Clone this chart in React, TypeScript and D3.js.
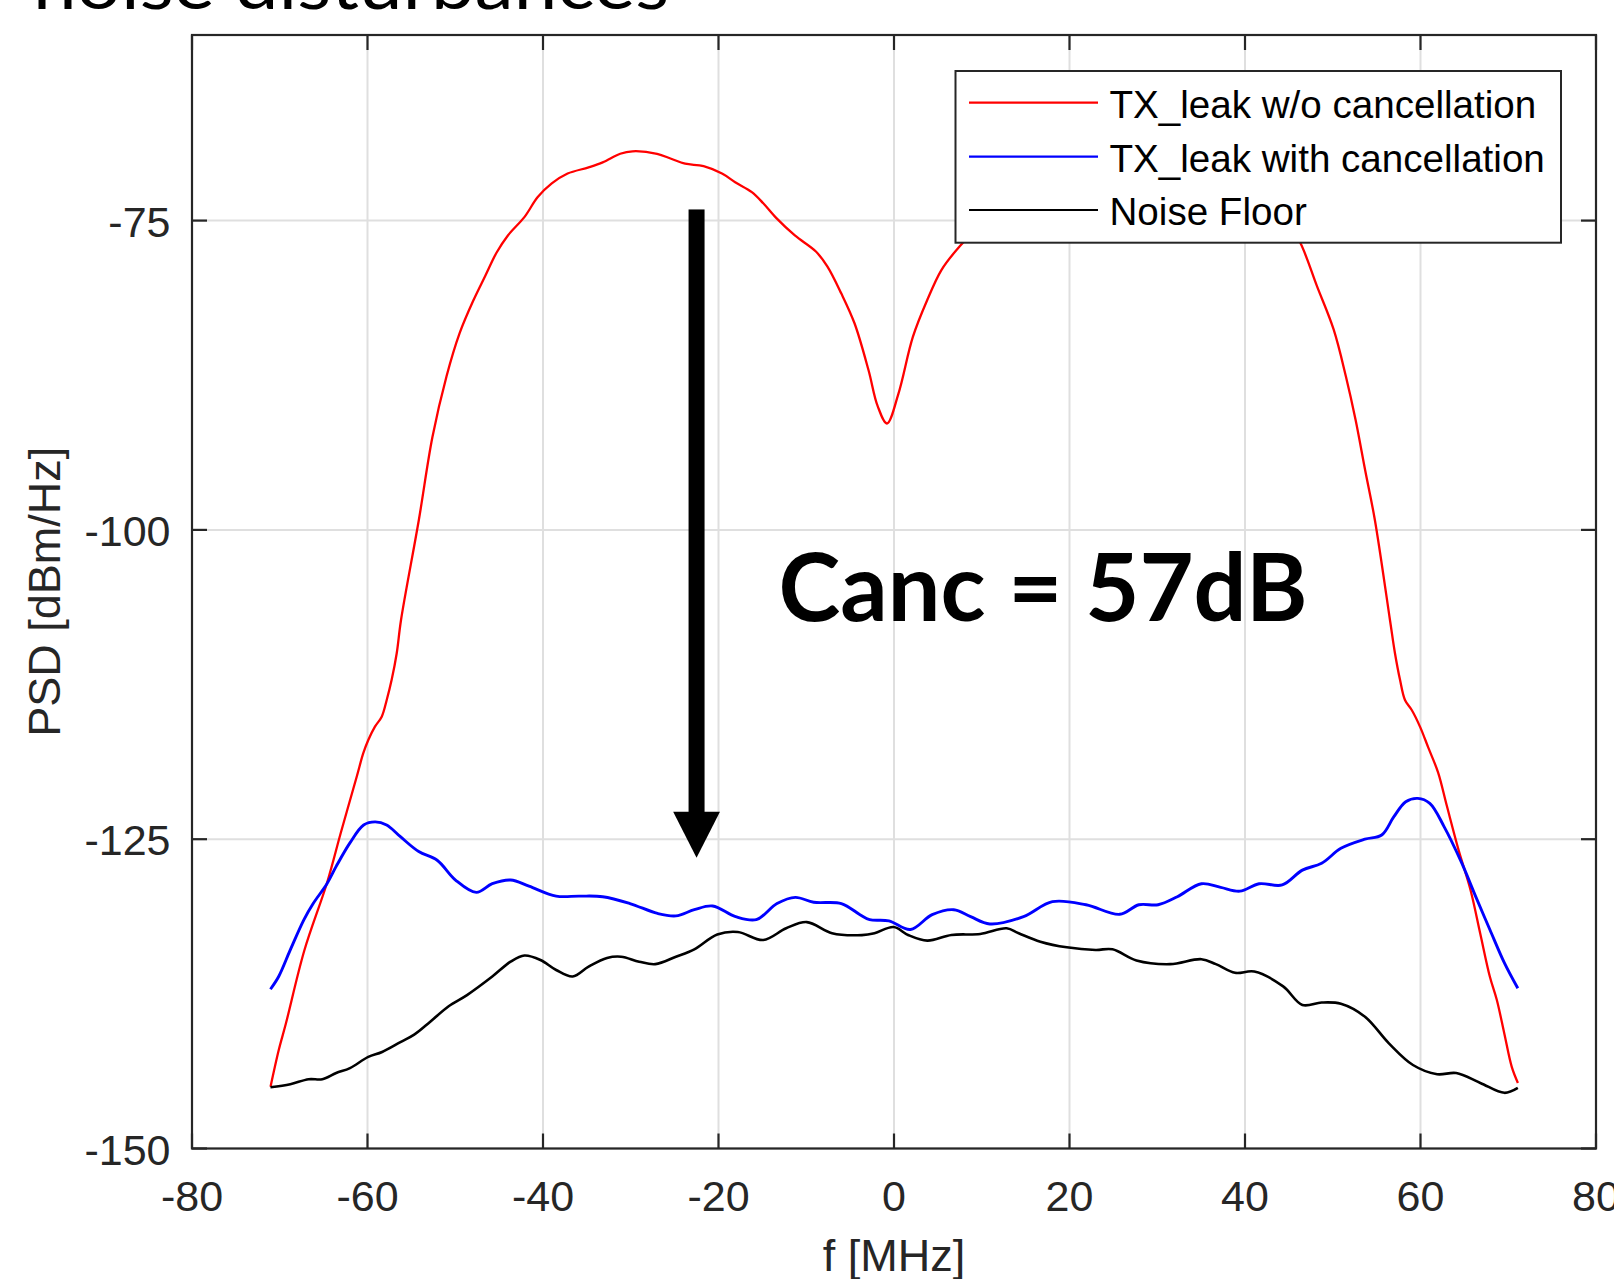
import React from "react";
import * as d3 from "d3";

// ---- data (f in MHz, PSD in dBm/Hz) ----
const redF = [-71.05, -70.1, -69.3, -67.2, -64.6, -63.05, -61.23, -60.48, -59.91, -59.15, -58.38, -57.81, -57.24, -56.67, -56.18, -54.15, -52.6, -51.0, -49.5, -47.9, -46.6, -45.3, -44.0, -42.1, -40.6, -39.0, -37.2, -34.8, -33.2, -31.2, -29.8, -27.0, -25.4, -23.8, -21.7, -19.6, -18.1, -16.2, -14.9, -13.4, -11.3, -8.9, -7.6, -6.0, -4.5, -2.9, -1.86, -0.8, 0.5, 2.15, 3.8, 5.4, 7.1, 9, 12, 16, 20, 25, 30, 35, 39, 42, 44.5, 46.3, 48.2, 50.1, 51.5, 52.6, 53.7, 54.8, 56.52, 57.09, 57.66, 58.23, 59.0, 59.94, 60.89, 62.0, 63.0, 64.35, 65.7, 66.8, 67.9, 68.7, 69.55, 70.4, 71.1];
const redV = [-145.0, -142.0, -139.9, -134.0, -128.5, -124.5, -119.95, -118.05, -116.98, -115.9, -115.1, -113.75, -112.1, -109.97, -107.28, -99.2, -92.5, -87.6, -84.1, -81.4, -79.5, -77.6, -76.2, -74.7, -73.1, -72.0, -71.2, -70.7, -70.3, -69.6, -69.4, -69.6, -70.0, -70.4, -70.6, -71.2, -71.9, -72.7, -73.6, -74.8, -76.2, -77.5, -78.7, -80.9, -83.3, -87.1, -90.0, -91.4, -89.0, -84.4, -81.4, -79.0, -77.4, -76.0, -74.4, -72.8, -71.5, -70.6, -70.0, -70.3, -71.4, -73.0, -74.8, -76.8, -80.3, -83.8, -87.6, -91.1, -95.2, -99.2, -107.28, -109.97, -112.1, -113.75, -114.56, -115.9, -117.6, -119.6, -122.3, -125.9, -129.1, -132.6, -136.1, -138.0, -140.7, -143.4, -144.7];

const blueF = [-71.06, -70.12, -68.8, -67.24, -66.19, -64.62, -63.57, -62.0, -60.44, -59.13, -57.82, -56.25, -54.16, -52.06, -49.97, -47.6, -45.78, -43.69, -41.6, -38.5, -35.84, -33.2, -30.1, -26.95, -24.85, -22.76, -20.67, -18.05, -15.69, -13.33, -11.24, -9.15, -6.0, -3.875, -2.78, -0.59, 1.88, 4.35, 6.81, 8.73, 10.92, 14.76, 18.05, 21.88, 25.72, 27.91, 30.1, 32.29, 35.03, 37.23, 39.42, 41.61, 44.24, 46.54, 48.73, 50.93, 53.67, 55.58, 56.95, 58.32, 59.69, 61.06, 62.7, 64.62, 66.27, 67.9, 69.56, 71.09];
const blueV = [-137.13, -136.1, -133.95, -131.5, -130.2, -128.6, -127.2, -125.3, -123.85, -123.6, -123.85, -124.8, -126.0, -126.7, -128.3, -129.3, -128.6, -128.3, -128.8, -129.6, -129.6, -129.65, -130.2, -131.0, -131.2, -130.7, -130.4, -131.26, -131.5, -130.2, -129.7, -130.1, -130.2, -131.1, -131.5, -131.6, -132.3, -131.1, -130.7, -131.26, -131.85, -131.26, -130.05, -130.3, -131.07, -130.3, -130.3, -129.65, -128.6, -128.9, -129.2, -128.6, -128.7, -127.5, -126.95, -125.74, -125.0, -124.66, -123.2, -121.97, -121.7, -122.1, -124.0, -126.8, -129.6, -132.3, -135.0, -137.05];

const noiseF = [-71.06, -68.8, -66.7, -65.15, -63.57, -62.0, -59.91, -58.34, -56.25, -54.68, -52.85, -50.75, -48.66, -45.78, -43.69, -42.12, -40.29, -38.5, -36.62, -34.8, -32.7, -31.1, -29.04, -27.2, -24.85, -22.76, -20.14, -17.8, -14.9, -12.29, -9.94, -7.06, -3.66, -2.23, -0.04, 1.6, 3.8, 6.54, 9.83, 12.84, 14.21, 16.68, 19.69, 22.98, 24.9, 27.63, 31.47, 35.03, 36.68, 38.87, 41.06, 44.35, 46.54, 48.73, 50.93, 53.67, 56.4, 59.14, 61.9, 64.07, 66.82, 69.56, 71.09];
const noiseV = [-145.05, -144.8, -144.4, -144.4, -143.9, -143.5, -142.6, -142.2, -141.4, -140.8, -139.75, -138.5, -137.6, -136.1, -134.9, -134.4, -134.76, -135.57, -136.1, -135.3, -134.6, -134.5, -134.9, -135.1, -134.5, -133.9, -132.7, -132.5, -133.15, -132.2, -131.7, -132.6, -132.75, -132.6, -132.1, -132.74, -133.2, -132.74, -132.66, -132.2, -132.6, -133.28, -133.74, -133.95, -133.9, -134.8, -135.1, -134.7, -135.1, -135.8, -135.7, -136.9, -138.4, -138.2, -138.3, -139.35, -141.5, -143.25, -144.0, -143.9, -144.7, -145.5, -145.1];

const xTicks = [-80, -60, -40, -20, 0, 20, 40, 60, 80];
const yTicks = [-150, -125, -100, -75];
const xDomain = [-80, 80];
const yDomain = [-150, -60];

const seriesNames = ["TX_leak w/o cancellation", "TX_leak with cancellation", "Noise Floor"];
const seriesColors = ["#ff0000", "#0000ff", "#000000"];

// arrow annotation (data coords)
const arrowF = -22.5;
const arrowTopV = -74.1;
const arrowTipV = -126.5;
const cancLabel = "Canc = 57dB";
const cancF = -13.16;
const cancV = -107.34;

const titleText = "noise disturbances";
const xLabel = "f [MHz]";
const yLabel = "PSD [dBm/Hz]";

export default function App() {
  const W = 1614, H = 1279;
  const L = 192, R = 1596, T = 35, B = 1148.5;
  const x = d3.scaleLinear().domain(xDomain).range([L, R]);
  const y = d3.scaleLinear().domain(yDomain).range([B, T]);
  const line = d3
    .line<[number, number]>()
    .x((d) => x(d[0]))
    .y((d) => y(d[1]))
    .curve(d3.curveCatmullRom.alpha(0.5));

  const series = [
    { f: redF, v: redV, w: 2.3 },
    { f: blueF, v: blueV, w: 2.9 },
    { f: noiseF, v: noiseV, w: 2.6 },
  ];

  const axisColor = "#262626";
  const gridColor = "#dfdfdf";
  const tickLen = 15;
  const font = "'Liberation Sans', Arial, sans-serif";

  const ax = x(arrowF);
  const headBase = y(arrowTipV) - 46;

  const legX = 955.5, legY = 71, legW = 605.5, legH = 171.7;
  const legRows = [102.7, 156.7, 210];

  return (
    <svg width={W} height={H} style={{ position: "absolute", left: 0, top: 0, background: "#fff" }}>
      <rect x={0} y={0} width={W} height={H} fill="#fff" />
      <text x={33} y={9} fontFamily="Lato, 'Open Sans', sans-serif" fontSize={70} textLength={636} lengthAdjust="spacingAndGlyphs" fill="#000">
        {titleText}
      </text>
      {/* grid */}
      {xTicks.map((t) => (
        <line key={"gx" + t} x1={x(t)} x2={x(t)} y1={T} y2={B} stroke={gridColor} strokeWidth={2} />
      ))}
      {yTicks.map((t) => (
        <line key={"gy" + t} x1={L} x2={R} y1={y(t)} y2={y(t)} stroke={gridColor} strokeWidth={2} />
      ))}
      {/* data */}
      <defs>
        <clipPath id="clip">
          <rect x={L} y={T} width={R - L} height={B - T} />
        </clipPath>
      </defs>
      <g clipPath="url(#clip)">
        {series.map((s, i) => (
          <path
            key={i}
            d={line(s.f.map((f, j) => [f, s.v[j]] as [number, number])) || ""}
            fill="none"
            stroke={seriesColors[i]}
            strokeWidth={s.w}
            strokeLinejoin="round"
          />
        ))}
      </g>
      {/* ticks */}
      {xTicks.map((t) => (
        <g key={"tx" + t}>
          <line x1={x(t)} x2={x(t)} y1={B} y2={B - tickLen} stroke={axisColor} strokeWidth={2.2} />
          <line x1={x(t)} x2={x(t)} y1={T} y2={T + tickLen} stroke={axisColor} strokeWidth={2.2} />
          <text x={x(t)} y={1211} textAnchor="middle" fontFamily={font} fontSize={43} fill={axisColor}>
            {String(t)}
          </text>
        </g>
      ))}
      {yTicks.map((t) => (
        <g key={"ty" + t}>
          <line x1={L} x2={L + tickLen} y1={y(t)} y2={y(t)} stroke={axisColor} strokeWidth={2.2} />
          <line x1={R} x2={R - tickLen} y1={y(t)} y2={y(t)} stroke={axisColor} strokeWidth={2.2} />
          <text x={170.5} y={y(t) + 16} textAnchor="end" fontFamily={font} fontSize={43} fill={axisColor}>
            {String(t)}
          </text>
        </g>
      ))}
      {/* box */}
      <rect x={L} y={T} width={R - L} height={B - T} fill="none" stroke={axisColor} strokeWidth={2.2} />
      {/* axis labels */}
      <text x={(L + R) / 2} y={1271} textAnchor="middle" fontFamily={font} fontSize={45} fill={axisColor}>
        {xLabel}
      </text>
      <text
        transform={`translate(60,${(T + B) / 2}) rotate(-90)`}
        textAnchor="middle"
        fontFamily={font}
        fontSize={45}
        fill={axisColor}
      >
        {yLabel}
      </text>
      {/* arrow */}
      <rect x={ax - 8} y={y(arrowTopV)} width={16} height={headBase - y(arrowTopV) + 1} fill="#000" />
      <path d={`M${ax - 23.4},${headBase} L${ax + 23.4},${headBase} L${ax},${y(arrowTipV)} Z`} fill="#000" />
      <text
        x={x(cancF)}
        y={y(cancV)}
        fontFamily="Lato, 'Open Sans', sans-serif"
        fontWeight={700}
        fontSize={94}
        textLength={529}
        lengthAdjust="spacingAndGlyphs"
        fill="#000"
      >
        {cancLabel}
      </text>
      {/* legend */}
      <rect x={legX} y={legY} width={legW} height={legH} fill="#fff" stroke={axisColor} strokeWidth={2} />
      {seriesNames.map((n, i) => (
        <g key={n}>
          <line x1={969} x2={1098} y1={legRows[i]} y2={legRows[i]} stroke={seriesColors[i]} strokeWidth={2.2} />
          <text x={1109.5} y={legRows[i] + 15} fontFamily={font} fontSize={38.6} fill="#000">
            {n}
          </text>
        </g>
      ))}
    </svg>
  );
}
